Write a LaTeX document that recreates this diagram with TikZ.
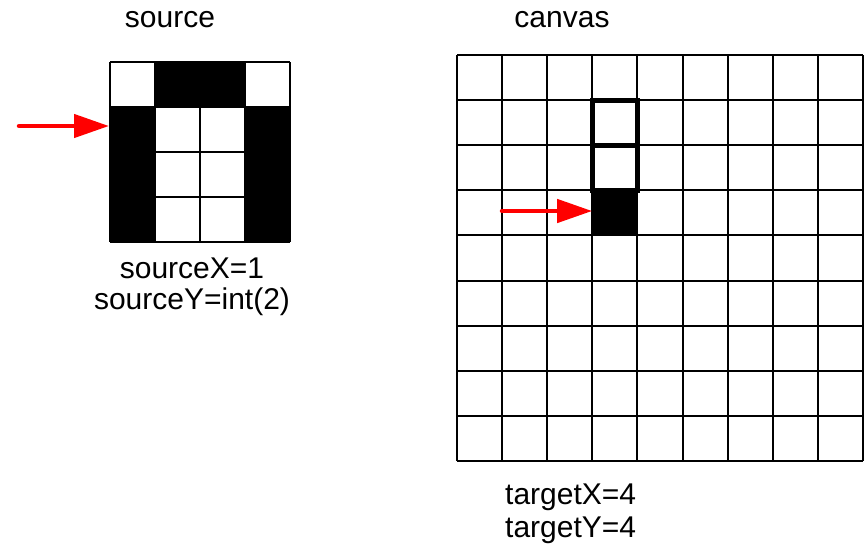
\documentclass[tikz,border=0pt]{standalone}
\usepackage{fontspec}
\setmainfont{Liberation Sans}
\usetikzlibrary{arrows.meta}
\begin{document}
\begin{tikzpicture}[x=1pt,y=-1pt,
  gridline/.style={line width=2pt},
  boldcell/.style={draw, line width=5pt},
  redarrow/.style={draw=red, line width=4.5pt, line cap=round, -{Triangle[length=35pt,width=23pt]}},
  lbl/.style={font=\fontsize{30}{34}\selectfont, inner sep=0pt}]
\useasboundingbox (0,0) rectangle (864,550);
% ---------- source ----------
\node[lbl] (srctitle) at (170,20) {source};
\fill (155,62) rectangle (245,107);
\fill (110,107) rectangle (155,242);
\fill (245,107) rectangle (290,242);
\foreach \i in {0,...,4} {
  \draw[gridline] (110+45*\i,62) -- (110+45*\i,242);
  \draw[gridline] (110,62+45*\i) -- (290,62+45*\i);
}
\coordinate (sstart) at (19,126);
\coordinate (stip) at (109,126);
\draw[redarrow] (sstart) -- (stip);
\node[lbl] (sx) at (192,268) {sourceX=1};
\node[lbl] (sy) at (192,302) {sourceY=int(2)};
% ---------- canvas ----------
\node[lbl] (cantitle) at (562,20) {canvas};
\node[fill=black, minimum size=45.1pt, inner sep=0pt] (tcell) at (614.9,212.8) {};
\foreach \i in {0,...,9} {
  \draw[gridline] (457+45.11*\i,55) -- (457+45.11*\i,461);
  \draw[gridline] (457,55+45.11*\i) -- (863,55+45.11*\i);
}
\draw[boldcell] (592.3,100.1) rectangle (637.4,145.2);
\draw[boldcell] (592.3,145.2) rectangle (637.4,190.3);
\coordinate (tstart) at (502,211);
\draw[redarrow] (tstart) -- (tcell.west |- tstart);
\node[lbl, anchor=west] (tx) at (505,497) {targetX=4};
\node[lbl, anchor=west] (ty) at (505,530) {targetY=4};
\end{tikzpicture}
\end{document}
